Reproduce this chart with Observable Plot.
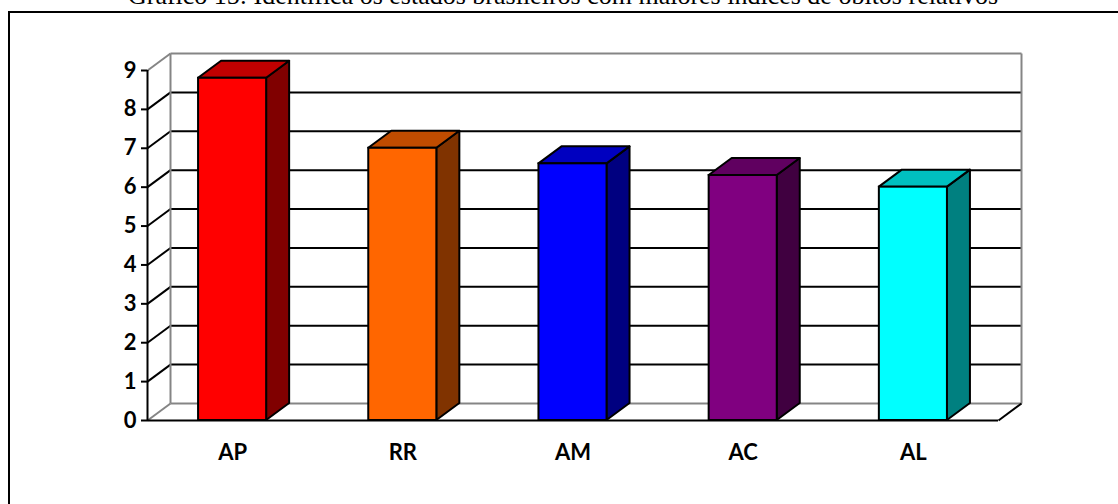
<!DOCTYPE html>
<html>
<head>
<meta charset="utf-8">
<script src="https://cdn.jsdelivr.net/npm/d3@7"></script>
<script src="https://cdn.jsdelivr.net/npm/@observablehq/plot@0.6"></script>
<style>
  html, body { margin: 0; padding: 0; background: #fff; }
  #wrap { position: relative; width: 1118px; height: 504px; overflow: hidden; background: #fff; }
  #title { position: absolute; left: 4px; top: -17px; width: 1118px; text-align: center;
           font-family: "Liberation Serif", "Times New Roman", serif; font-size: 26px;
           line-height: 26px; white-space: nowrap; color: #000; }
  #frame { position: absolute; left: 8px; top: 11px; right: -4px; bottom: -4px;
           border-left: 2px solid #000; border-top: 2px solid #000; }
  #chart { position: absolute; left: 0; top: 0; }
</style>
</head>
<body>
<div id="wrap">
  <div id="title">Gráfico 15: Identifica os estados brasileiros com maiores índices de óbitos relativos</div>
  <div id="frame"></div>
  <div id="chart"></div>
</div>
<script>
// States and their relative death indices
const states = ["AP", "RR", "AM", "AC", "AL"];
const values = [8.8, 7.0, 6.6, 6.3, 6.0];
const frontColors = ["#FF0000", "#FF6600", "#0000FF", "#800080", "#00FFFF"];
const sideColors  = ["#800000", "#803300", "#000080", "#400040", "#008080"];
const topColors   = ["#C00000", "#C04C00", "#0000C0", "#600060", "#00C0C0"];
const yTicks = [0, 1, 2, 3, 4, 5, 6, 7, 8, 9];

const width = 1118, height = 504;
const marginLeft = 147, marginRight = 120, marginTop = 70, marginBottom = 84;
const xMax = states.length, yMax = 9;

// Depth of the 3D box, in pixels, converted to data units
const depthPx = 23, risePx = 17;
const DX = depthPx * xMax / (width - marginLeft - marginRight);
const DY = risePx * yMax / (height - marginTop - marginBottom);

const bars = states.map((s, i) => ({
  state: s, value: values[i],
  x1: i + 0.3, x2: i + 0.7, mid: i + 0.5,
  front: frontColors[i], side: sideColors[i], top: topColors[i]
}));

// Side face: parallelogram from the right edge of the front face back into depth
const sideRows = bars.flatMap(b => [
  {state: b.state, x: b.x2, y1: 0, y2: b.value, fill: b.side},
  {state: b.state, x: b.x2 + DX, y1: DY, y2: b.value + DY, fill: b.side}
]);
// Top face: parallelogram from the top of the front face back into depth
const topRows = bars.flatMap(b => [
  {state: b.state, y: b.value, x1: b.x1, x2: b.x2, fill: b.top},
  {state: b.state, y: b.value + DY, x1: b.x1 + DX, x2: b.x2 + DX, fill: b.top}
]);

const isEdge = v => v === 0 || v === yMax;
const grey = "#858585";
const lw = 2;
const labelFont = {fontSize: 22, fontWeight: "bold", fontFamily: "Lato", fill: "#000"};

const chart = Plot.plot({
  width, height, marginLeft, marginRight, marginTop, marginBottom,
  x: {domain: [0, xMax], axis: null},
  y: {domain: [0, yMax], axis: null},
  color: {type: "identity"},
  style: {background: "transparent", overflow: "visible"},
  marks: [
    // back wall gridlines
    Plot.link(yTicks, {x1: DX, x2: xMax + DX, y1: d => d + DY, y2: d => d + DY,
      stroke: d => isEdge(d) ? grey : "#000", strokeWidth: lw}),
    // side wall lines joining the front axis to the back wall
    Plot.link(yTicks, {x1: 0, x2: DX, y1: d => d, y2: d => d + DY,
      stroke: d => isEdge(d) ? grey : "#000", strokeWidth: lw}),
    // back wall vertical edges
    Plot.link([DX, xMax + DX], {x1: d => d, x2: d => d, y1: DY, y2: yMax + DY,
      stroke: grey, strokeWidth: lw}),
    // floor right edge
    Plot.link([xMax], {x1: d => d, x2: d => d + DX, y1: 0, y2: DY, stroke: "#000", strokeWidth: lw}),
    // bars
    Plot.areaY(sideRows, {x: "x", y1: "y1", y2: "y2", z: "state", fill: "fill",
      stroke: "#000", strokeWidth: lw, strokeLinejoin: "round", curve: "linear"}),
    Plot.areaX(topRows, {y: "y", x1: "x1", x2: "x2", z: "state", fill: "fill",
      stroke: "#000", strokeWidth: lw, strokeLinejoin: "round", curve: "linear"}),
    Plot.rect(bars, {x1: "x1", x2: "x2", y1: 0, y2: "value", fill: "front",
      stroke: "#000", strokeWidth: lw, inset: 0}),
    // front axes
    Plot.ruleY([0], {x1: 0, x2: xMax, stroke: "#000", strokeWidth: lw}),
    Plot.ruleX([0], {y1: 0, y2: yMax, stroke: "#000", strokeWidth: lw}),
    Plot.axisY(yTicks, {anchor: "left", tickSize: 6, tickPadding: 5, strokeWidth: lw,
      stroke: "#000", label: null, ...labelFont}),
    // category labels
    Plot.text(bars, {x: "mid", y: 0, dy: 32, text: "state", ...labelFont})
  ]
});
document.getElementById("chart").appendChild(chart);
</script>
</body>
</html>
